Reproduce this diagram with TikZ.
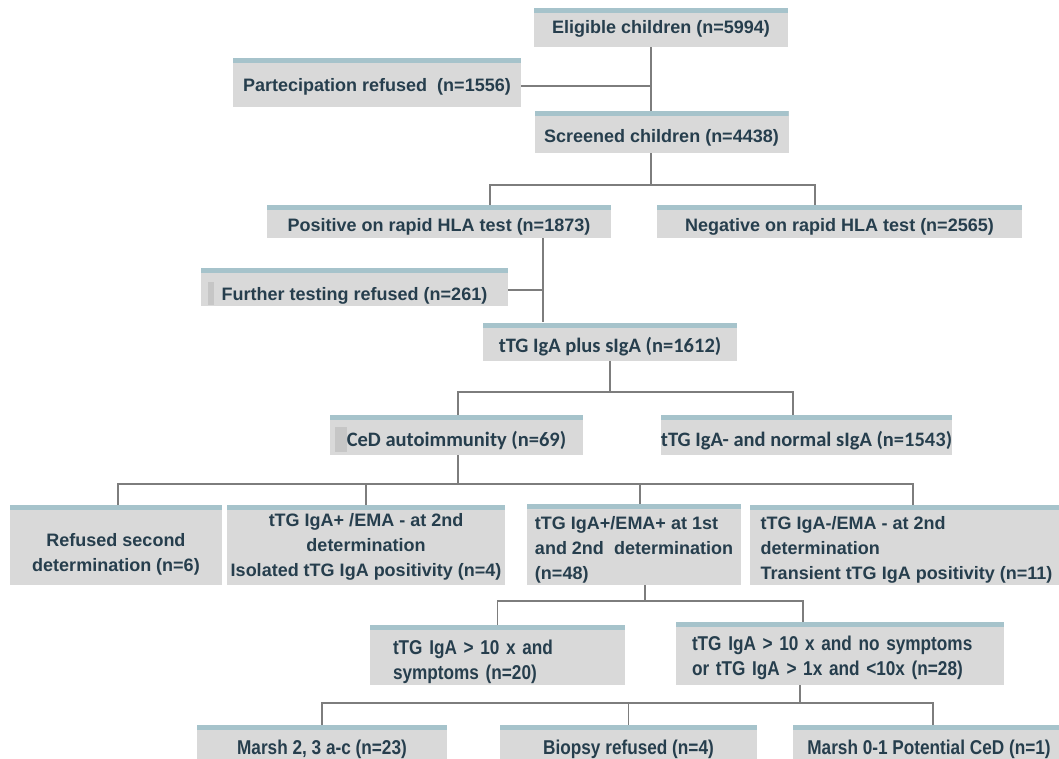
\documentclass[tikz,border=0pt]{standalone}
\usepackage{fontspec}
\setmainfont{Liberation Sans}
\newfontfamily\calfont{Carlito}
\newfontfamily\narfont[FakeStretch=0.86]{Liberation Sans}
\definecolor{boxgray}{RGB}{217,217,217}
\definecolor{stripgray}{RGB}{198,198,198}
\definecolor{barblue}{RGB}{166,195,203}
\definecolor{txtblue}{RGB}{38,62,77}
\definecolor{linegray}{RGB}{125,125,125}
\hyphenpenalty=10000

\begin{document}
\begin{tikzpicture}[x=1pt, y=-1pt,
  sz/.style 2 args={minimum width=#1pt, minimum height=#2pt},
  sink/.style={execute at begin node={\rule{0pt}{#1pt}}},
  lastbase/.style={text depth=0pt, text height=2*(#1pt)},
  box/.style={fill=boxgray, inner sep=0pt, text=txtblue,
    font=\bfseries\fontsize{18}{25}\selectfont,
    path picture={\fill[barblue] (path picture bounding box.north west)
      rectangle ([yshift=-5pt]path picture bounding box.north east);}},
  calbox/.style={box, font=\calfont\bfseries\fontsize{20.5}{25}\selectfont},
  narbox/.style={box, font=\narfont\bfseries\fontsize{20}{25}\selectfont},
  conn/.style={draw=linegray, line width=1.2pt}]

  \useasboundingbox (0,0) rectangle (1059,759);

  \node[box, sz={254}{39}, sink=16.7] (eli) at (661,27.5) {Eligible children (n=5994)};
  \node[box, sz={288}{49}, sink=21.7] (part) at (377,82.5) {Partecipation refused\ \ (n=1556)};
  \node[box, sz={254}{42}, sink=24.7] (scr) at (661.5,132) {Screened children (n=4438)};
  \node[box, sz={344}{33}, sink=24.7] (pos) at (439,221.5) {Positive on rapid HLA test (n=1873)};
  \node[box, sz={365}{33}, sink=24.7] (neg) at (839.5,221.5) {Negative on rapid HLA test (n=2565)};
  \node[box, sz={307}{38}, sink=31.7] (fur) at (354.5,287) {Further testing refused (n=261)};
  \node[calbox, sz={254}{38}, sink=26] (ttg) at (610,341.5) {tTG IgA plus sIgA (n=1612)};
  \node[calbox, sz={253}{40}, sink=27] (ced) at (456.5,435) {CeD autoimmunity (n=69)};
  \node[calbox, sz={283}{40}, sink=27] (nor) at (806.5,435) {tTG IgA- and normal sIgA (n=1543)};

  \node[box, sz={212}{80}, lastbase=26, align=center] (ref2) at (116,545) {Refused second\\determination (n=6)};
  \node[box, sz={278}{80}, lastbase=31, align=center] (iso) at (366,545) {tTG IgA+ /EMA - at 2nd\\determination\\Isolated tTG IgA positivity (n=4)};
  \node[box, sz={214}{81}, lastbase=35, align=left] (emap) at (634,544.5) {tTG IgA+/EMA+ at 1st\\and 2nd\ \ determination\\(n=48)};
  \node[box, sz={313}{80}, lastbase=34, align=left] (tra) at (906.5,545) {tTG IgA-/EMA - at 2nd\\determination\\Transient tTG IgA positivity (n=11)};

  \node[narbox, sz={255}{60}, sink=28.5, inner xsep=23pt, text width=209pt, align=left] (sym) at (497.5,655) {tTG IgA > 10 x and\\symptoms (n=20)};
  \node[narbox, sz={328}{63}, sink=23.5, inner xsep=16pt, text width=296pt, align=left] (nsy) at (840,653.5) {tTG IgA > 10 x and no symptoms\\or tTG IgA > 1x and <10x (n=28)};

  \node[narbox, sz={250}{42}, sink=20.5] (m23) at (322,746) {Marsh 2, 3 a-c (n=23)};
  \node[narbox, sz={257}{42}, sink=20.5] (bio) at (628.5,746) {Biopsy refused (n=4)};
  \node[narbox, sz={272}{42}, sink=20.5] (m01) at (929,746) {Marsh 0-1 Potential CeD (n=1)};

  \fill[stripgray] ([xshift=7pt,yshift=1pt]fur.south west) rectangle ([xshift=13pt,yshift=-14pt]fur.north west);
  \fill[stripgray] ([xshift=5pt,yshift=3pt]ced.south west) rectangle ([xshift=17pt,yshift=-12pt]ced.north west);

  \coordinate (j1) at (651,86);
  \draw[conn] (eli.south -| j1) -- (scr.north -| j1);
  \draw[conn] (part.east |- j1) -- (j1);

  \coordinate (j2) at (651,185);
  \draw[conn] (scr.south -| j2) -- (j2);
  \draw[conn] ([xshift=51pt]pos.north) |- (j2) -| ([xshift=-24.5pt]neg.north);

  \coordinate (j3) at (543,290);
  \draw[conn] (pos.south -| j3) -- (ttg.north -| j3);
  \draw[conn] (fur.east |- j3) -- (j3);

  \coordinate (j4) at (610,392);
  \draw[conn] (ttg.south) -- (j4);
  \draw[conn] ([xshift=1.5pt]ced.north) |- (j4) -| ([xshift=-13.5pt]nor.north);

  \coordinate (j5) at (458,484);
  \draw[conn] (ced.south -| j5) -- (j5);
  \draw[conn] ([xshift=2pt]ref2.north) |- (j5) -| ([xshift=6.5pt]tra.north);
  \draw[conn] (iso.north) -- (iso.north |- j5);
  \draw[conn] ([xshift=6pt]emap.north) -- ([xshift=6pt]emap.north |- j5);

  \coordinate (j6) at (645,601);
  \draw[conn] (emap.south -| j6) -- (j6);
  \draw[conn] (sym.north) |- (j6) -| ([xshift=-37pt]nsy.north);

  \coordinate (j7) at (800,703);
  \draw[conn] (nsy.south -| j7) -- (j7);
  \draw[conn] (m23.north) |- (j7) -| ([xshift=4pt]m01.north);
  \draw[conn] (bio.north) -- (bio.north |- j7);
\end{tikzpicture}
\end{document}
